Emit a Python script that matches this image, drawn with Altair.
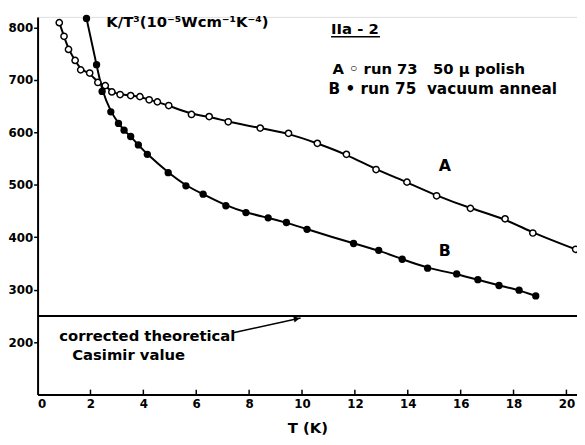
import altair as alt
import pandas as pd

# Series A (open circles): run 73, 50 micron polish
a_T = [0.82, 1.0, 1.17, 1.42, 1.63, 1.97, 2.28, 2.56, 2.81, 3.12, 3.52, 3.87, 4.22, 4.53,
       4.96, 5.82, 6.49, 7.21, 8.42, 9.49, 10.58, 11.68, 12.8, 13.97, 15.09, 16.37, 17.68,
       18.73, 20.35]
a_K = [809, 783, 758, 737, 719, 713, 695, 689, 677, 672, 670, 668, 662, 658,
       651, 634, 630, 620, 608, 598, 579, 558, 529, 505, 479, 455, 435, 408, 377]

# Series B (filled circles): run 75, vacuum anneal
b_T = [1.85, 2.23, 2.44, 2.77, 3.06, 3.27, 3.52, 3.81, 4.15, 4.94, 5.61, 6.26, 7.12, 7.88,
       8.72, 9.41, 10.19, 11.95, 12.9, 13.79, 14.75, 15.85, 16.65, 17.45, 18.21, 18.84]
b_K = [817, 729, 678, 639, 617, 604, 592, 576, 558, 523, 498, 482, 460, 447,
       437, 428, 415, 388, 375, 358, 341, 330, 319, 308, 299, 288]

casimir_value = 250
x_ticks = [0, 2, 4, 6, 8, 10, 12, 14, 16, 18, 20]
y_ticks = [200, 300, 400, 500, 600, 700, 800]

NB = "\u00a0"
# annotation texts
ann_text = ["K/T³(10⁻⁵Wcm⁻¹K⁻⁴)", "IIa - 2",
            "A ◦ run 73" + NB * 3 + "50 μ polish",
            "B • run 75" + NB * 2 + "vacuum anneal",
            "corrected theoretical", "Casimir value"]
ann_x = [2.6, 11.1, 11.15, 11.0, 0.82, 1.31]
ann_y = [810, 796, 721, 682, 211, 176]
ann_size = [15, 15, 15, 15.5, 15, 15]

curve_labels = ["A", "B"]
curve_label_x = [15.4, 15.4]
curve_label_y = [535, 373]

FONT = "DejaVu Sans"
W, H = 547, 383
xs = alt.Scale(domain=[0, 20.4], nice=False, zero=False)
ys = alt.Scale(domain=[100, 820], nice=False, zero=False)

dfA = pd.DataFrame({"T": a_T, "K": a_K})
dfB = pd.DataFrame({"T": b_T, "K": b_K})

x_enc = alt.X("T:Q", scale=xs,
              axis=alt.Axis(values=x_ticks, format="d", ticks=False, title="T (K)",
                            labelFont=FONT, labelFontWeight="bold", labelFontSize=12,
                            labelColor="black", labelPadding=4, domainColor="black",
                            domainWidth=2, titleFont=FONT, titleFontSize=15,
                            titleFontWeight="bold", titleColor="black", titlePadding=11,
                            grid=False))
y_enc = alt.Y("K:Q", scale=ys,
              axis=alt.Axis(values=y_ticks, format="d", title=None, labelFont=FONT,
                            labelFontWeight="bold", labelFontSize=12, labelColor="black",
                            labelPadding=1, tickSize=4, tickColor="black", tickWidth=1.5,
                            domainColor="black", domainWidth=2, grid=False))

lineA = alt.Chart(dfA).mark_line(color="black", strokeWidth=2, interpolate="basis").encode(
    x=x_enc, y=y_enc)
ptsA = alt.Chart(dfA).mark_point(shape="circle", filled=True, fill="white", stroke="black",
                                 strokeWidth=1.5, size=40, opacity=1).encode(
    x=alt.X("T:Q", scale=xs), y=alt.Y("K:Q", scale=ys))
lineB = alt.Chart(dfB).mark_line(color="black", strokeWidth=2, interpolate="basis").encode(
    x=alt.X("T:Q", scale=xs), y=alt.Y("K:Q", scale=ys))
ptsB = alt.Chart(dfB).mark_point(shape="circle", filled=True, color="black", size=55,
                                 opacity=1).encode(
    x=alt.X("T:Q", scale=xs), y=alt.Y("K:Q", scale=ys))

casimir = alt.Chart(pd.DataFrame({"K": [casimir_value]})).mark_rule(
    color="black", strokeWidth=2).encode(
    y=alt.Y("K:Q", scale=ys), x=alt.value(0), x2=alt.value(W))

xt = alt.Chart(pd.DataFrame({"T": x_ticks[1:]})).mark_rule(
    color="black", strokeWidth=1.5).encode(
    x=alt.X("T:Q", scale=xs), y=alt.value(H), y2=alt.value(H - 5))

ann = alt.Chart(pd.DataFrame({"t": ann_text, "x": ann_x, "y": ann_y, "s": ann_size})).mark_text(
    align="left", baseline="middle", font=FONT, fontWeight="bold", color="black").encode(
    x=alt.X("x:Q", scale=xs), y=alt.Y("y:Q", scale=ys), text="t:N",
    size=alt.Size("s:Q", scale=None, legend=None))

clab = alt.Chart(pd.DataFrame({"t": curve_labels, "x": curve_label_x, "y": curve_label_y})).mark_text(
    align="center", baseline="middle", font=FONT, fontWeight="bold", fontSize=16,
    color="black").encode(x=alt.X("x:Q", scale=xs), y=alt.Y("y:Q", scale=ys), text="t:N")

# underline of "IIa - 2"
uline = alt.Chart(pd.DataFrame({"x": [11.1], "x2": [12.95], "y": [782]})).mark_rule(
    color="black", strokeWidth=1.5).encode(
    x=alt.X("x:Q", scale=xs), x2="x2:Q", y=alt.Y("y:Q", scale=ys))

# arrow from text to the Casimir line
arrow_df = pd.DataFrame({"x": [7.4, 9.95], "y": [218, 246]})
arrow = alt.Chart(arrow_df).mark_line(color="black", strokeWidth=1.5).encode(
    x=alt.X("x:Q", scale=xs), y=alt.Y("y:Q", scale=ys))
head = alt.Chart(pd.DataFrame({"x": [9.8], "y": [244.5]})).mark_point(
    shape="triangle-right", filled=True, color="black", size=45, angle=349, opacity=1).encode(
    x=alt.X("x:Q", scale=xs), y=alt.Y("y:Q", scale=ys))

chart = alt.layer(lineA, lineB, ptsA, ptsB, casimir, xt, ann, clab, uline, arrow, head).properties(
    width=W, height=H,
    autosize=alt.AutoSizeParams(type="none"),
    padding={"left": 30, "top": 6, "right": 0, "bottom": 40},
).configure_view(stroke=None).configure(background="white")

chart.save("out.html", embed_options={"renderer": "svg", "actions": False})
